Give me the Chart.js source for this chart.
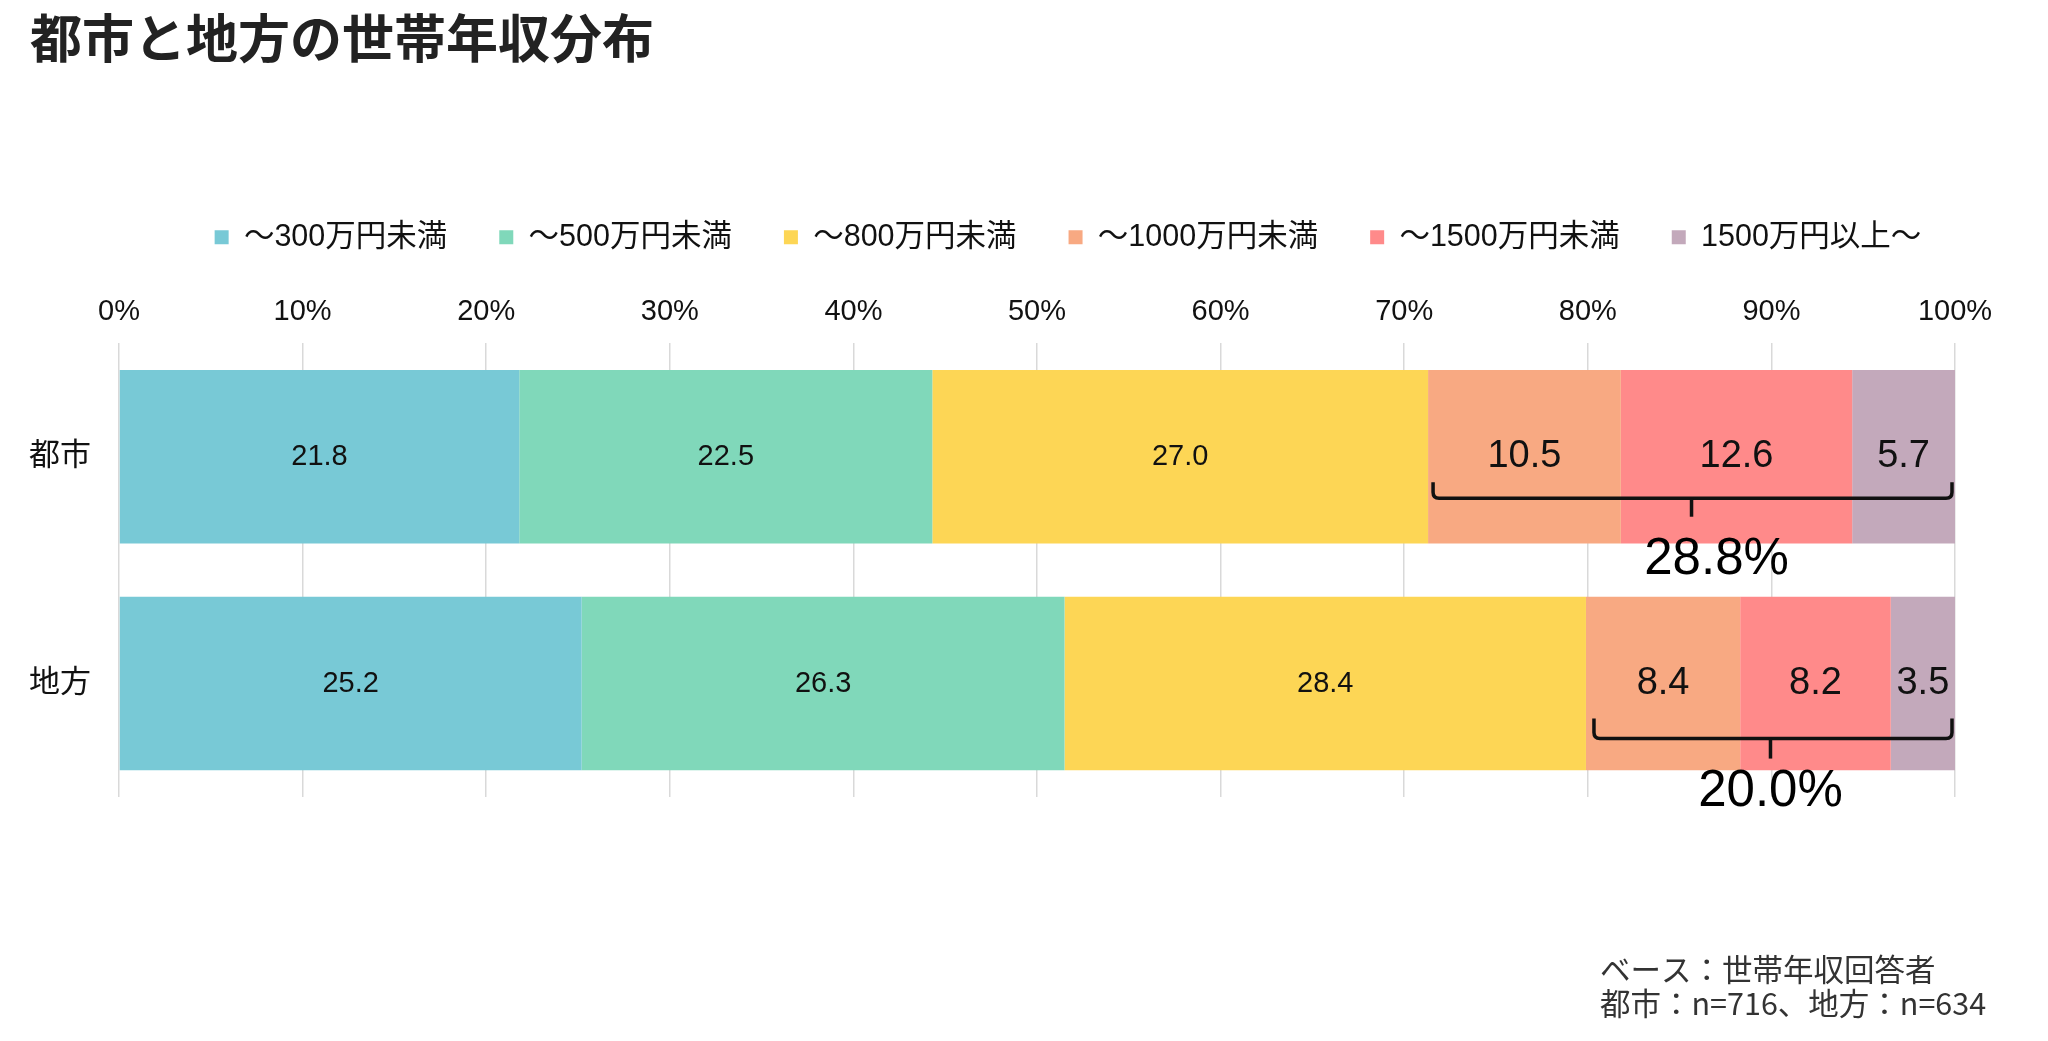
<!DOCTYPE html>
<html><head><meta charset="utf-8">
<script src="https://cdn.jsdelivr.net/npm/chart.js@4.4.0/dist/chart.umd.min.js"></script>
<style>html,body{margin:0;padding:0;background:#fff;overflow:hidden}canvas{display:block}</style>
</head><body>
<canvas id="c" width="2048" height="1041"></canvas>
<script>
// ---- data ----
const categories = ['都市', '地方'];
const seriesNames = ['～300万円未満', '～500万円未満', '～800万円未満', '～1000万円未満', '～1500万円未満', '1500万円以上～'];
const under300 = [21.8, 25.2];
const under500 = [22.5, 26.3];
const under800 = [27.0, 28.4];
const under1000 = [10.5, 8.4];
const under1500 = [12.6, 8.2];
const over1500 = [5.7, 3.5];
const xTickValues = [0, 10, 20, 30, 40, 50, 60, 70, 80, 90, 100];
const braceFrom = [71.3, 79.9];
const braceTo = [100, 100];
const braceLabels = ['28.8%', '20.0%'];
const chartTitle = '都市と地方の世帯年収分布';
const noteLines = ['ベース：世帯年収回答者', '都市：n=716、地方：n=634'];

// ---- styles ----
const seriesColors = ['#78C9D6', '#80D8BA', '#FDD655', '#F8A982', '#FF8A8A', '#C3A9BB'];
const FONT = "'Liberation Sans', 'Noto Sans CJK JP', sans-serif";
const CJK = "'Noto Sans CJK JP', sans-serif";
const seriesData = [under300, under500, under800, under1000, under1500, over1500];
const labelSizes = [29, 29, 29, 38, 38, 38];

const decor = {
  id: 'decor',
  afterLayout(chart) {
    const lg = chart.legend;
    if (lg) { lg.left += 76; lg.right += 76; }
  },
  afterDatasetsDraw(chart) {
    const ctx = chart.ctx;
    const xs = chart.scales.x, ys = chart.scales.y;
    ctx.save();
    // value labels
    chart.data.datasets.forEach((ds, di) => {
      const meta = chart.getDatasetMeta(di);
      meta.data.forEach((bar, i) => {
        const v = ds.data[i];
        const start = Math.max(bar.base, xs.left), end = Math.min(bar.x, xs.right);
        ctx.fillStyle = '#111';
        ctx.font = labelSizes[di] + 'px ' + FONT;
        ctx.textAlign = 'center';
        ctx.textBaseline = 'middle';
        ctx.fillText(v.toFixed(1), (start + end) / 2, bar.y);
      });
    });
    // braces
    const bo = chart.options.plugins.decor.braces;
    ctx.strokeStyle = '#111';
    ctx.lineWidth = 3.5;
    ctx.lineJoin = 'round';
    braceFrom.forEach((f, i) => {
      const o = bo[i];
      const cy = ys.getPixelForValue(i);
      const x1 = xs.getPixelForValue(f) + o.inL;
      const x2 = Math.min(xs.getPixelForValue(braceTo[i]), xs.right) - o.inR;
      const xm = (xs.getPixelForValue(f) + xs.getPixelForValue(braceTo[i])) / 2;
      const yt = cy + o.top, ym = cy + o.mid, yb = cy + o.stem, r = 6;
      ctx.beginPath();
      ctx.moveTo(x1, yt);
      ctx.lineTo(x1, ym - r);
      ctx.quadraticCurveTo(x1, ym, x1 + r, ym);
      ctx.lineTo(x2 - r, ym);
      ctx.quadraticCurveTo(x2, ym, x2, ym - r);
      ctx.lineTo(x2, yt);
      ctx.stroke();
      ctx.beginPath();
      ctx.moveTo(xm, ym);
      ctx.lineTo(xm, yb);
      ctx.stroke();
      ctx.fillStyle = '#000';
      ctx.font = '51px ' + FONT;
      ctx.textAlign = 'center';
      ctx.textBaseline = 'middle';
      ctx.fillText(braceLabels[i], xm + o.lx, cy + o.label);
    });
    // title
    ctx.fillStyle = '#222';
    ctx.font = 'bold 52px ' + CJK;
    ctx.textAlign = 'left';
    ctx.textBaseline = 'middle';
    ctx.fillText(chartTitle, 30, 38);
    // note
    ctx.fillStyle = '#333';
    ctx.font = '30.5px ' + CJK;
    noteLines.forEach((t, k) => ctx.fillText(t, 1600, 969 + k * 34));
    ctx.restore();
  }
};

new Chart(document.getElementById('c'), {
  type: 'bar',
  data: {
    labels: categories,
    datasets: seriesNames.map((n, i) => ({
      label: n,
      data: seriesData[i],
      backgroundColor: seriesColors[i],
      borderWidth: 0,
      barPercentage: 0.765,
      categoryPercentage: 1.0
    }))
  },
  options: {
    indexAxis: 'y',
    responsive: false,
    animation: false,
    devicePixelRatio: 1,
    layout: { padding: { top: 170, left: 29, right: 93, bottom: 244 } },
    plugins: {
      legend: {
        position: 'top',
        labels: {
          font: { size: 30.5, family: FONT },
          color: '#111',
          boxWidth: 14,
          boxHeight: 14,
          padding: 52
        }
      },
      title: { display: false },
      tooltip: { enabled: false },
      decor: {
        braces: [
          { top: 25.5, mid: 41.5, stem: 60, label: 103, inL: 5, inR: 3, lx: 25 },
          { top: 35, mid: 55, stem: 75, label: 108, inL: 8, inR: 3, lx: 0 }
        ]
      }
    },
    scales: {
      x: {
        position: 'top',
        stacked: true,
        min: 0, max: 100,
        afterBuildTicks: s => { s.ticks = xTickValues.map(v => ({ value: v })); },
        afterFit: s => { s.height += 18; },
        ticks: {
          callback: v => v + '%',
          font: { size: 29, family: FONT },
          color: '#111',
          padding: 14,
          maxRotation: 0
        },
        grid: { color: '#d9d9d9', lineWidth: 1.5, drawTicks: false },
        border: { display: false }
      },
      y: {
        stacked: true,
        afterFit: s => { s.width = 90; },
        ticks: {
          font: { size: 31, family: FONT },
          color: '#111',
          padding: 28
        },
        grid: { display: false, drawTicks: false },
        border: { display: false }
      }
    }
  },
  plugins: [decor]
});
</script>
</body></html>
